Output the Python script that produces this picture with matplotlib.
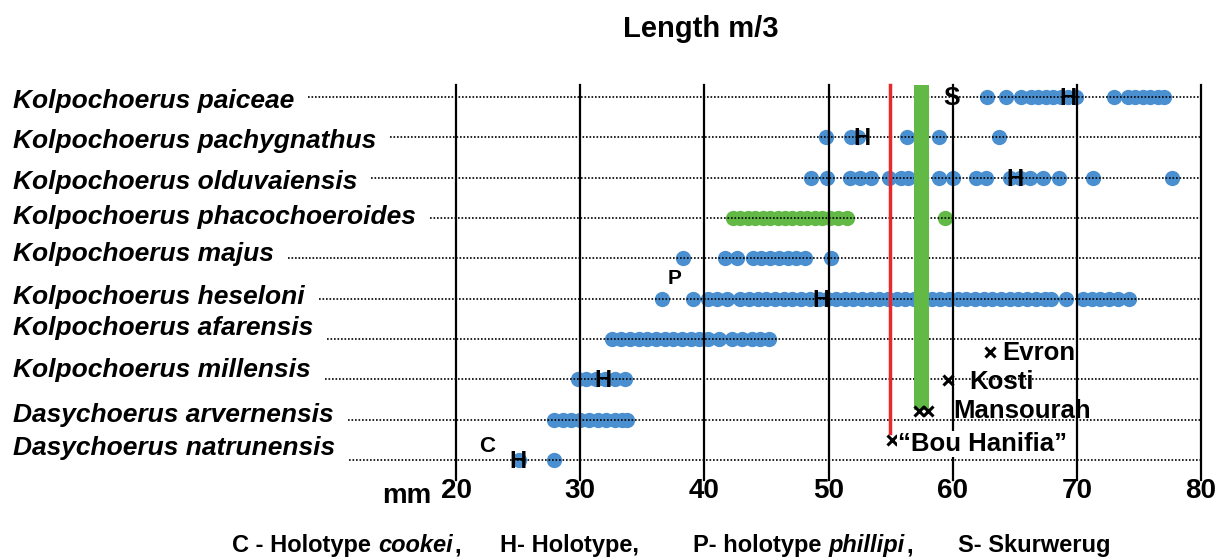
import matplotlib.pyplot as plt

plt.rcParams['font.family'] = ['Liberation Sans', 'DejaVu Sans']

# species, top row first
species = [
    "Kolpochoerus paiceae",
    "Kolpochoerus pachygnathus",
    "Kolpochoerus olduvaiensis",
    "Kolpochoerus phacochoeroides",
    "Kolpochoerus majus",
    "Kolpochoerus heseloni",
    "Kolpochoerus afarensis",
    "Kolpochoerus millensis",
    "Dasychoerus arvernensis",
    "Dasychoerus natrunensis",
]

# m/3 length (mm) of each specimen
paiceae = [62.8, 64.3, 65.5, 66.3, 66.9, 67.5, 68.1, 68.7, 69.3, 69.9,
           73.0, 74.1, 74.7, 75.3, 75.9, 76.5, 77.0]
pachygnathus = [49.8, 51.8, 52.4, 56.3, 57.4, 58.9, 63.7]
olduvaiensis = [48.6, 49.9, 51.7, 52.5, 53.4, 54.9, 55.8, 56.4, 58.9, 60.0,
                61.9, 62.7, 64.6, 65.4, 66.2, 67.3, 68.6, 71.3, 77.7]
phacochoeroides = [42.3, 42.9, 43.5, 44.1, 44.7, 45.3, 45.9, 46.5, 47.1,
                   47.7, 48.3, 48.9, 49.5, 50.1, 50.8, 51.5, 59.4]
majus = [38.3, 41.7, 42.6, 43.9, 44.6, 45.3, 46.0, 46.7, 47.4, 48.1, 50.2]
heseloni = [36.6, 39.1, 40.3, 41.0, 41.8, 42.9, 43.6, 44.3, 45.0, 45.7,
            46.4, 47.1, 47.8, 48.5, 49.2, 49.9, 50.6, 51.3, 52.0, 52.7,
            53.4, 54.1, 54.8, 55.5, 56.2, 56.9, 57.6, 58.3, 59.0, 59.7,
            60.4, 61.1, 61.8, 62.5, 63.2, 63.9, 64.6, 65.3, 66.0, 66.7,
            67.4, 67.9, 69.1, 70.5, 71.2, 71.9, 72.6, 73.3, 74.2]
afarensis = [32.6, 33.3, 34.0, 34.7, 35.4, 36.1, 36.8, 37.5, 38.2, 38.9,
             39.6, 40.3, 41.2, 42.2, 43.0, 43.8, 44.5, 45.2]
millensis = [29.8, 30.5, 31.3, 32.0, 32.8, 33.6]
arvernensis = [27.9, 28.6, 29.3, 30.0, 30.7, 31.4, 32.1, 32.8, 33.4, 33.8]
natrunensis = [25.1, 27.9]

values = [paiceae, pachygnathus, olduvaiensis, phacochoeroides, majus,
          heseloni, afarensis, millensis, arvernensis, natrunensis]
colours = ["blue", "blue", "blue", "green", "blue",
           "blue", "blue", "blue", "blue", "blue"]

# letters: H holotype, S Skurwerug, P holotype phillipi, C holotype cookei
holotype_species = ["Kolpochoerus paiceae", "Kolpochoerus pachygnathus",
                    "Kolpochoerus olduvaiensis", "Kolpochoerus heseloni",
                    "Kolpochoerus millensis", "Dasychoerus natrunensis"]
holotype_mm = [69.3, 52.7, 65.0, 49.4, 31.8, 25.0]
skurwerug_mm = 59.9
phillipi_mm = 37.6
cookei_mm = 22.5

# North African sites
sites = ["Evron", "Kosti", "Mansourah", "\u201cBou Hanifia\u201d"]
sites_mm = [[63.0], [59.6], [57.3, 58.0], [55.1]]
red_mm = 54.95
green_mm = (56.85, 58.1)

ticks = [20, 30, 40, 50, 60, 70, 80]

BLUE = "#4a8fd0"
GREEN = "#63b946"

W, H = 1225, 557
fig = plt.figure(figsize=(W / 100, H / 100), dpi=100)
ax = fig.add_axes([456 / W, 1 - 480 / H, (1201 - 456) / W, (480 - 85) / H])
ax.set_xlim(20, 80)
ax.set_ylim(-0.496, 9.298)
for s in ax.spines.values():
    s.set_visible(False)
ax.set_yticks([])
ax.set_xticks(ticks)
ax.set_xticklabels([str(t) for t in ticks], fontsize=20, fontweight='bold')
ax.tick_params(axis='x', length=0, pad=-1.5)
for t in ticks:
    ax.axvline(t, color='black', lw=1.6, zorder=3, clip_on=False)

n = len(species)
rows = [n - 1 - k for k in range(n)]
label_dy = [11, 11, 11, 6, 3, 5, -4, -2, 2, -5]

labels = []
for name, y, dy, vals, c in zip(species, rows, label_dy, values, colours):
    lab = ax.annotate(name, xy=(13, y), xycoords=('figure pixels', 'data'),
                      xytext=(0, -dy), textcoords='offset pixels',
                      va='baseline', ha='left', fontsize=19,
                      fontweight='bold', fontstyle='italic')
    labels.append(lab)
    ax.plot(vals, [y] * len(vals), linestyle='none', marker='o', ms=11,
            color=BLUE if c == "blue" else GREEN, mec='none', zorder=2)

fig.canvas.draw()
renderer = fig.canvas.get_renderer()
inv = ax.transData.inverted()
for lab, y in zip(labels, rows):
    bb = lab.get_window_extent(renderer)
    x0 = inv.transform((bb.x1 + 14, 0))[0]
    ax.plot([x0, 80], [y, y], color='black', lw=1.2, linestyle=(0, (1, 1.1)),
            zorder=3, clip_on=False)

ax.axvline(red_mm, ymin=(480 - 433) / 395, ymax=1, color='#e8282d', lw=2.5,
           zorder=4, clip_on=False)
ax.axvspan(green_mm[0], green_mm[1], ymin=(480 - 410) / 395, ymax=1,
           color=GREEN, lw=0, zorder=4)

letter_kw = dict(ha='center', va='baseline', fontweight='bold',
                 textcoords='offset pixels', zorder=6)
for sp, m in zip(holotype_species, holotype_mm):
    y = rows[species.index(sp)]
    ax.annotate('H', xy=(m, y), xytext=(0, -8), fontsize=17, **letter_kw)
ax.annotate('S', xy=(skurwerug_mm, rows[0]), xytext=(0, -8), fontsize=18,
            **letter_kw)
ax.annotate('P', xy=(phillipi_mm, rows[species.index("Kolpochoerus heseloni")]),
            xytext=(0, 15), fontsize=15, **letter_kw)
ax.annotate('C', xy=(cookei_mm, rows[-1]), xytext=(0, 8), fontsize=16,
            **letter_kw)

# site marks: y level and label offset (pixels) are layout only
site_y = [2.69, 1.98, 1.21, 0.50]
site_dx = [12, 22, 25, 6]
site_dy = [8, 9, 7, 11]
for name, mms, y, dx, dy in zip(sites, sites_mm, site_y, site_dx, site_dy):
    ax.plot(mms, [y] * len(mms), linestyle='none', marker='x', ms=7,
            mew=2.2, color='black', zorder=6, clip_on=False)
    kw = {}
    if name.startswith('\u201c'):
        kw['bbox'] = dict(facecolor='white', edgecolor='none', pad=1)
    ax.annotate(name, xy=(mms[-1], y), xytext=(dx, -dy),
                textcoords='offset pixels', ha='left', va='baseline',
                fontsize=18.5, fontweight='bold', zorder=6, **kw)

fig.text(431 / W, 1 - 503 / H, 'mm', ha='right', va='baseline', fontsize=20,
         fontweight='bold')
fig.text(701 / W, 1 - 36.7 / H, 'Length m/3', ha='center', va='baseline',
         fontsize=21, fontweight='bold')

# caption with italic species names
caption = [
    [("C - Holotype", 'normal'), ("cookei", 'italic'), (",", 'normal')],
    [("H- Holotype,", 'normal')],
    [("P- holotype", 'normal'), ("phillipi", 'italic'), (",", 'normal')],
    [("S- Skurwerug", 'normal')],
]
caption_x = [232, 500, 693, 958]
cap_fs = 17
space_px = 0.28 * cap_fs * 100 / 72
for parts, x in zip(caption, caption_x):
    cur = x
    prev_style = None
    for txt, style in parts:
        if prev_style is not None and txt != ",":
            cur += space_px
        t = fig.text(cur / W, 1 - 552 / H, txt, ha='left', va='baseline',
                     fontsize=cap_fs, fontweight='bold', fontstyle=style)
        cur = t.get_window_extent(renderer).x1 + 1
        prev_style = style

fig.savefig('out.png', dpi=100)
